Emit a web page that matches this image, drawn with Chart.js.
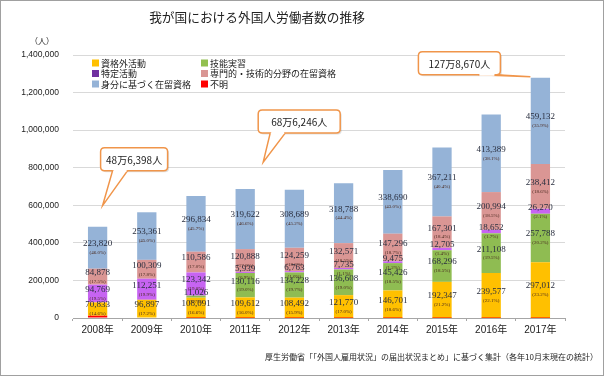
<!DOCTYPE html>
<html>
<head>
<meta charset="utf-8">
<script src="https://cdn.jsdelivr.net/npm/chart.js@4.4.1/dist/chart.umd.min.js"></script>
<style>
  html, body { margin: 0; padding: 0; background: #fff; }
  #wrap { position: relative; width: 604px; height: 376px; box-sizing: border-box; border: 1px solid #a0a0a0; }
  canvas { position: absolute; left: 0; top: 0; }
</style>
</head>
<body>
<div id="wrap"><canvas id="chart" width="602" height="374"></canvas></div>
<script>
// Data (each October, persons)
const years = ['2008年', '2009年', '2010年', '2011年', '2012年', '2013年', '2014年', '2015年', '2016年', '2017年'];

const unknown     = [12098, 0, 103, 69, 19, 32, 39, 36, 49, 56];
const shikakugai  = [70833, 96897, 108091, 109612, 108492, 121770, 146701, 192347, 239577, 297012];
const ginoJisshu  = [0, 0, 11026, 130116, 134228, 136608, 145426, 168296, 211108, 257788];
const tokutei     = [94769, 112251, 123342, 5939, 6763, 7735, 9475, 12705, 18652, 26270];
const senmon      = [84878, 100309, 110586, 120888, 124259, 132571, 147296, 167301, 200994, 238412];
const mibun       = [223820, 253361, 296834, 319622, 308689, 318788, 338690, 367211, 413389, 459132];

const yTicks = [0, 200000, 400000, 600000, 800000, 1000000, 1200000, 1400000];

const series = [
    { label: '不明', data: unknown, color: '#FF0000', legend: '#FF0000', showLabels: false },
    { label: '資格外活動', data: shikakugai, color: '#FFC000', legend: '#FFC000', showLabels: true },
    { label: '技能実習', data: ginoJisshu, color: '#8FBC52', legend: '#92C050', showLabels: true },
    { label: '特定活動', data: tokutei, color: '#C764F2', legend: '#7030A0', showLabels: true },
    { label: '専門的・技術的分野の在留資格', data: senmon, color: '#DA9694', legend: '#D99694', showLabels: true },
    { label: '身分に基づく在留資格', data: mibun, color: '#95B3D7', legend: '#95B3D7', showLabels: true }
];

// legend order as in the original (two columns)
const legendOrder = [1, 2, 3, 4, 5, 0];

const totals = years.map((y, i) => series.reduce((s, d) => s + d.data[i], 0));

// callouts pointing at the totals
const callouts = [
    { index: 0, text: '48万6,398人', tip: [5, -21], box: [-2, -58, 67, 23], base: [10, 25] },
    { index: 3, text: '68万6,246人', tip: [18, -27], box: [-5, -52, 82, 23], base: [7, 22] },
    { index: 9, text: '127万8,670人', tip: [-10, -1], box: [-112, -25, 82, 23], base: [-52, -35] }
];

const JP = '"Noto Sans CJK JP", "Noto Sans", sans-serif';

function roundRect(ctx, x, y, w, h, r) {
    ctx.beginPath();
    ctx.moveTo(x + r, y);
    ctx.lineTo(x + w - r, y);
    ctx.quadraticCurveTo(x + w, y, x + w, y + r);
    ctx.lineTo(x + w, y + h - r);
    ctx.quadraticCurveTo(x + w, y + h, x + w - r, y + h);
    ctx.lineTo(x + r, y + h);
    ctx.quadraticCurveTo(x, y + h, x, y + h - r);
    ctx.lineTo(x, y + r);
    ctx.quadraticCurveTo(x, y, x + r, y);
    ctx.closePath();
}

const decorPlugin = {
    id: 'decor',
    afterDatasetsDraw(chart) {
        const ctx = chart.ctx;
        ctx.save();
        ctx.textAlign = 'center';
        ctx.textBaseline = 'middle';
        // value + share labels inside segments
        series.forEach((s, di) => {
            if (!s.showLabels) return;
            const meta = chart.getDatasetMeta(di);
            meta.data.forEach((bar, i) => {
                const v = s.data[i];
                if (!v) return;
                const mid = (bar.y + bar.base) / 2;
                const pct = (v / totals[i] * 100).toFixed(1);
                ctx.fillStyle = '#2a2f3f';
                ctx.font = '9px "Liberation Serif", serif';
                ctx.fillText(v.toLocaleString('en-US'), bar.x, mid - 4);
                ctx.fillStyle = '#4a2a20';
                ctx.font = '5px "Liberation Serif", serif';
                ctx.fillText('(' + pct + '%)', bar.x, mid + 5);
            });
        });
        ctx.restore();
    },
    afterDraw(chart) {
        const ctx = chart.ctx;
        const area = chart.chartArea;
        const ys = chart.scales.y;
        ctx.save();

        // title
        ctx.fillStyle = '#222';
        ctx.font = '12.7px ' + JP;
        ctx.textAlign = 'center';
        ctx.textBaseline = 'middle';
        ctx.fillText('我が国における外国人労働者数の推移', 256, 16);

        // unit
        ctx.font = '8px ' + JP;
        ctx.fillText('（人）', 41, 40);

        // legend
        ctx.textAlign = 'left';
        ctx.font = '9px ' + JP;
        legendOrder.forEach((di, k) => {
            const col = k % 2, row = Math.floor(k / 2);
            const x = area.left + 19 + col * 109;
            const y = area.top + 8 + row * 10.5;
            ctx.fillStyle = series[di].legend;
            ctx.fillRect(x, y - 3.5, 7, 7);
            ctx.fillStyle = '#222';
            ctx.fillText(series[di].label, x + 9, y + 0.5);
        });

        // callouts
        callouts.forEach(c => {
            const meta = chart.getDatasetMeta(series.length - 1);
            const bar = meta.data[c.index];
            const tx = bar.x + c.tip[0];
            const ty = ys.getPixelForValue(totals[c.index]) + c.tip[1];
            const bx = tx + c.box[0], by = ty + c.box[1], bw = c.box[2], bh = c.box[3];
            const b0 = tx + c.base[0], b1 = tx + c.base[1];
            const draw = () => {
                ctx.beginPath();
                roundRect(ctx, bx, by, bw, bh, 4);
            };
            // shadow
            ctx.fillStyle = 'rgba(0,0,0,0.12)';
            ctx.save();
            ctx.translate(1.5, 1.5);
            draw();
            ctx.fill();
            ctx.restore();
            // pointer + box
            ctx.fillStyle = '#fff';
            ctx.strokeStyle = '#F0954A';
            ctx.lineWidth = 1.5;
            draw();
            ctx.fill();
            ctx.stroke();
            ctx.beginPath();
            ctx.moveTo(Math.min(b0, b1), by + bh);
            ctx.lineTo(tx, ty);
            ctx.lineTo(Math.max(b0, b1), by + bh);
            ctx.fill();
            ctx.stroke();
            ctx.fillRect(Math.min(b0, b1) + 1, by + bh - 2, Math.abs(b1 - b0) - 2, 3);
            ctx.fillStyle = '#222';
            ctx.font = '10px ' + JP;
            ctx.textAlign = 'center';
            ctx.fillText(c.text, bx + bw / 2, by + bh / 2 + 1);
        });

        // source
        ctx.fillStyle = '#222';
        ctx.font = '8px ' + JP;
        ctx.textAlign = 'right';
        ctx.fillText('厚生労働省「「外国人雇用状況」の届出状況まとめ」に基づく集計（各年10月末現在の統計）', 597, 356);
        ctx.restore();
    }
};

new Chart(document.getElementById('chart'), {
    type: 'bar',
    data: {
        labels: years,
        datasets: series.map(s => ({
            label: s.label,
            data: s.data,
            backgroundColor: s.color,
            borderWidth: 0,
            categoryPercentage: 0.8,
            barPercentage: 0.49
        }))
    },
    options: {
        responsive: false,
        animation: false,
        layout: { padding: { top: 54, right: 38, left: 0, bottom: 0 } },
        plugins: {
            legend: { display: false },
            tooltip: { enabled: false }
        },
        scales: {
            x: {
                stacked: true,
                grid: { drawOnChartArea: false, tickLength: 3, color: '#a6a6a6' },
                border: { color: '#a6a6a6' },
                ticks: { color: '#222', font: { size: 10, family: '"Liberation Sans", ' + JP }, padding: 3 },
                afterFit: s => { s.height = 57; }
            },
            y: {
                stacked: true,
                min: 0,
                max: 1400000,
                afterBuildTicks: s => { s.ticks = yTicks.map(v => ({ value: v })); },
                grid: { color: '#d9d9d9', drawTicks: false },
                border: { display: false },
                ticks: {
                    color: '#222',
                    padding: 14,
                    font: { size: 8.5, family: '"Liberation Sans", sans-serif' },
                    callback: v => v.toLocaleString('en-US')
                },
                afterFit: s => { s.width = 72; }
            }
        }
    },
    plugins: [decorPlugin]
});
</script>
</body>
</html>
